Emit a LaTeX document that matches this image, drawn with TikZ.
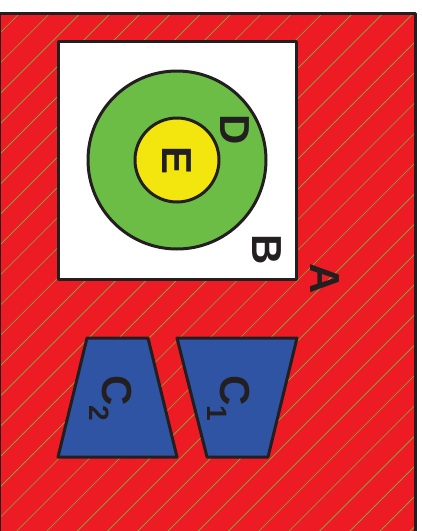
\documentclass[tikz,border=0pt]{standalone}
\usepackage{fontspec}
\setsansfont{Liberation Sans}

\definecolor{areared}{HTML}{ED1C24}
\definecolor{hatchgreen}{HTML}{7DB143}
\definecolor{ringgreen}{HTML}{6BBD45}
\definecolor{coreyellow}{HTML}{F2E60E}
\definecolor{trapblue}{HTML}{2F54A3}
\definecolor{edgegray}{HTML}{231F20}

\tikzset{
  outline/.style={draw=edgegray, line width=3pt},
  hatch/.style={draw=hatchgreen, line width=0.65pt},
  letter/.style={font=\sffamily\bfseries\fontsize{42}{42}\selectfont,
                 text=edgegray, rotate=-90, inner sep=0pt},
}

\newcommand{\subdigit}[1]{\raisebox{-13pt}{\fontsize{28}{28}\selectfont #1}}

\begin{document}
\begin{tikzpicture}
    [x=1pt, y=-1pt,
    line join=round]

    \useasboundingbox (0,0) rectangle (422,531);

    % Flaeche A mit Schraffur
    \fill[areared] (-0.5,13) rectangle (415,545);
    \begin{scope}
        \clip (-0.5,13) rectangle (415,545);
        \foreach \k in {0,...,32}
            \draw[hatch] ({2.7+30.28*\k},0) -- ++(-600,600);
    \end{scope}
    \draw[outline] (-0.5,13) rectangle (415,545);

    % Quadrat B mit Kreisen D und E
    \draw[outline, fill=white] (58,41) rectangle (296,279);
    \draw[outline, fill=ringgreen] (177,160) circle (89pt);
    \draw[outline, fill=coreyellow] (177,160) circle (42pt);

    % Trapeze C1 und C2
    \draw[outline, fill=trapblue] (87,338) -- (148,338) -- (177,457) -- (58,457) -- cycle;
    \draw[outline, fill=trapblue] (177,338) -- (297,338) -- (268,457) -- (207,457) -- cycle;

    % Beschriftung
    \node[letter] (labelD) at (235,130) {D};
    \node[letter] (labelE) at (177,161) {E};
    \node[letter] (labelB) at (267,250) {B};
    \node[letter] (labelA) at (325,279) {A};
    \node[letter, anchor=base west] (labelCtwo) at (102,375) {C\subdigit{2}};
    \node[letter, anchor=base west] (labelCone) at (220,375) {C\subdigit{1}};
\end{tikzpicture}
\end{document}
